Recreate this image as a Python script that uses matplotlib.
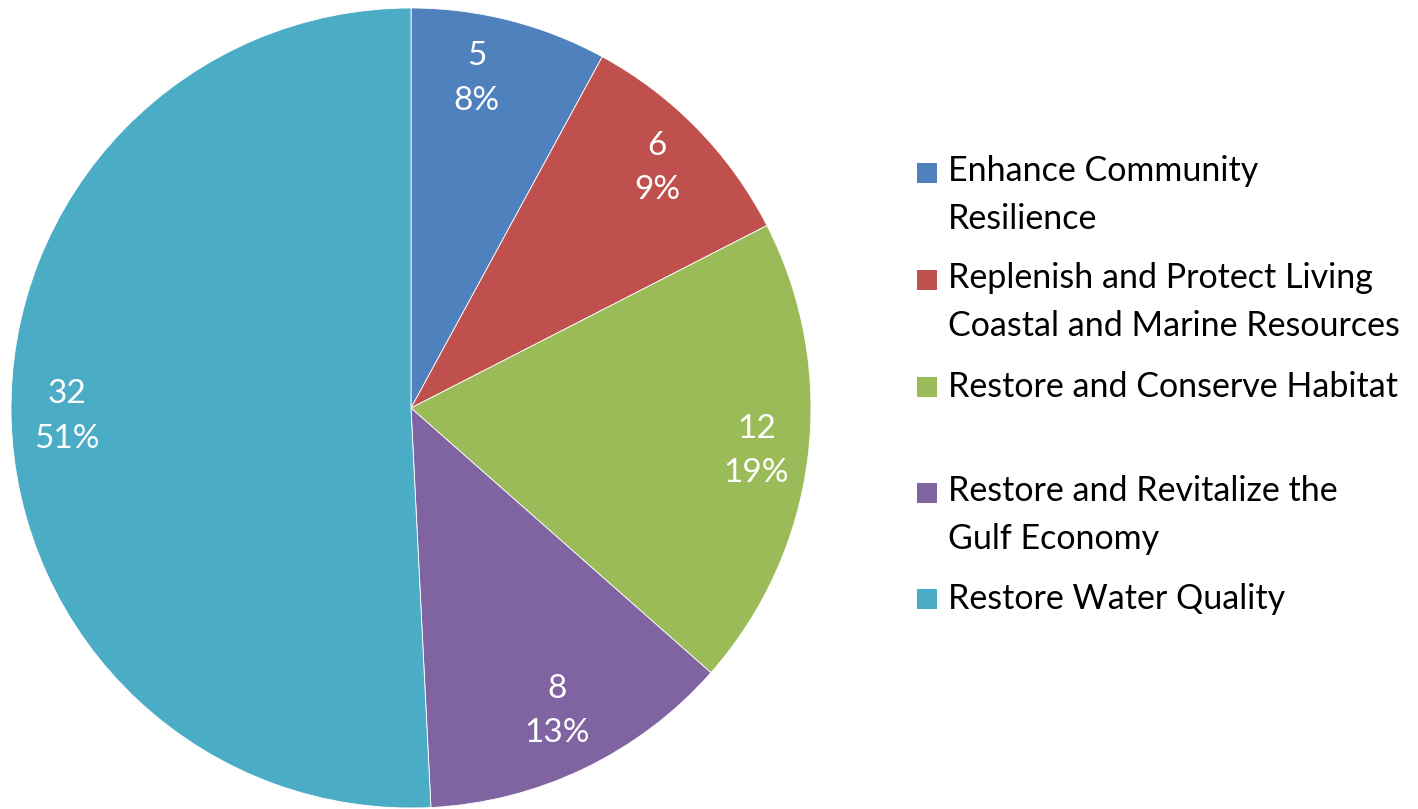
import numpy as np
import matplotlib
matplotlib.use("Agg")
import matplotlib.pyplot as plt
from matplotlib.patches import Rectangle

categories = [
    "Enhance Community\nResilience",
    "Replenish and Protect Living\nCoastal and Marine Resources",
    "Restore and Conserve Habitat",
    "Restore and Revitalize the\nGulf Economy",
    "Restore Water Quality",
]
counts = [5, 6, 12, 8, 32]
pct_labels = ["8%", "9%", "19%", "13%", "51%"]
colors = ["#4F81BD", "#C0504D", "#9BBB59", "#8064A2", "#4BACC6"]

plt.rcParams['font.family'] = ['Lato', 'DejaVu Sans']

fig = plt.figure(figsize=(14.18, 8.09), dpi=100)
W, H = 1418, 809

# pie centred at (411, 408) px, radius 400 px
cx, cy, r = 411, 408, 400
ax = fig.add_axes([(cx - r) / W, (H - cy - r) / H, 2 * r / W, 2 * r / H])
wedges, _ = ax.pie(counts, colors=colors, startangle=90, counterclock=False,
                   radius=1.0, wedgeprops=dict(linewidth=0.6, edgecolor="white"))
ax.set_xlim(-1, 1)
ax.set_ylim(-1, 1)
ax.set_aspect("equal")
ax.axis("off")

label_dist = [0.84, 0.86, 0.87, 0.84, 0.86]
label_shift = [3, 0, 0, 0, 0]  # small angle nudges, degrees
for w, n, p, d, s in zip(wedges, counts, pct_labels, label_dist, label_shift):
    ang = np.deg2rad((w.theta1 + w.theta2) / 2 + s)
    ax.text(d * np.cos(ang), d * np.sin(ang), "%d\n%s" % (n, p),
            ha="center", va="center", color="white", fontsize=24,
            linespacing=1.6)

# legend, drawn by hand to keep Excel's uneven spacing
legend_y = [195, 302, 387, 515, 599]  # centre of each entry in px from top
for lab, col, y in zip(categories, colors, legend_y):
    nlines = lab.count("\n") + 1
    top = y - (nlines - 1) * 45 / 2
    fig.patches.append(Rectangle((917 / W, (H - top - 10) / H), 20 / W, 20 / H,
                                 transform=fig.transFigure, facecolor=col,
                                 edgecolor="none"))
    fig.text(948 / W, (H - y) / H, lab, ha="left", va="center",
             fontsize=24.5, color="black", linespacing=1.6)

fig.savefig("out.png", dpi=100)
